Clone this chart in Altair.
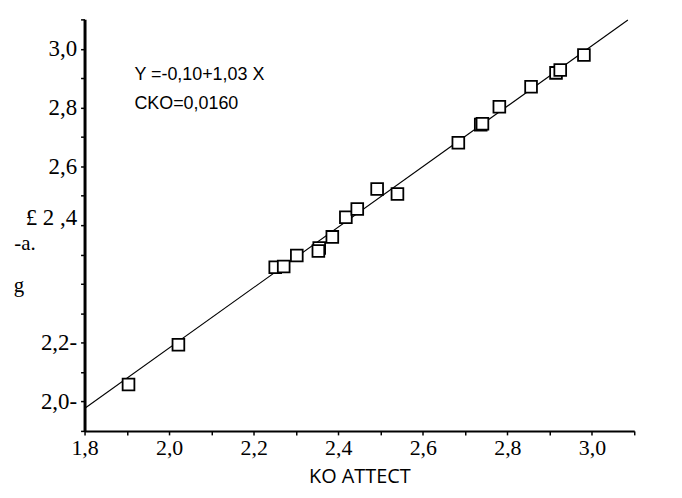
import altair as alt
import pandas as pd

# --- data -------------------------------------------------------------------
pts_x = [1.904, 2.022, 2.251, 2.271, 2.302, 2.355, 2.353, 2.386, 2.418, 2.445,
         2.492, 2.540, 2.684, 2.737, 2.741, 2.781, 2.856, 2.915, 2.925, 2.981]
pts_y = [1.858, 1.993, 2.257, 2.259, 2.297, 2.322, 2.312, 2.360, 2.427, 2.455,
         2.523, 2.506, 2.680, 2.742, 2.745, 2.803, 2.871, 2.918, 2.928, 2.979]

fit_x = [1.8, 3.085]
fit_y = [1.776, 3.098]

x_ticks = [1.8, 1.9, 2.0, 2.1, 2.2, 2.3, 2.4, 2.5, 2.6, 2.7, 2.8, 2.9, 3.0, 3.1]
x_label_values = [1.8, 2.0, 2.2, 2.4, 2.6, 2.8, 3.0]
x_label_texts = ["1,8", "2,0", "2,2", "2,4", "2,6", "2,8", "3,0"]

y_ticks = [1.7, 1.8, 1.9, 2.0, 2.1, 2.2, 2.3, 2.4, 2.5, 2.6, 2.7, 2.8, 2.9, 3.0, 3.1]
y_label_values = [1.8, 2.0, 2.4, 2.6, 2.8, 3.0]
y_label_texts = ["2,0-", "2,2-", "£ 2 ,4", "2,6", "2,8", "3,0"]

note_texts = ["Y =-0,10+1,03 X", "CKO=0,0160"]
note_x = [1.918, 1.918]
note_y = [2.912, 2.813]

side_texts = ["-a.", "g"]
side_x = [1.659, 1.645]
side_y = [2.335, 2.192]

x_title = "KO ATTECT"

SERIF = "Liberation Serif"


def label_expr(values, texts):
    expr = "''"
    for v, t in reversed(list(zip(values, texts))):
        expr = f"round(datum.value*10)=={round(v * 10)} ? '{t}' : {expr}"
    return expr


pts = pd.DataFrame({"x": pts_x, "y": pts_y})
fit = pd.DataFrame({"x": fit_x, "y": fit_y})
notes = pd.DataFrame({"x": note_x, "y": note_y, "t": note_texts})
sides = pd.DataFrame({"x": side_x, "y": side_y, "t": side_texts})

xscale = alt.Scale(domain=[1.8, 3.1], nice=False, zero=False)
yscale = alt.Scale(domain=[1.7, 3.1], nice=False, zero=False)

x_axis = alt.Axis(
    values=x_ticks, labelExpr=label_expr(x_label_values, x_label_texts),
    title=x_title, domainWidth=2, labelPadding=3, labelFontSize=22,
    titleFont="Open Sans", titleFontSize=20, titleFontWeight="normal",
    titleY=52, titleBaseline="alphabetic",
)
y_axis = alt.Axis(
    values=y_ticks, labelExpr=label_expr(y_label_values, y_label_texts),
    title=None, domainWidth=3, labelPadding=4, labelFontSize=23,
    labelBaseline="middle",
    labelOffset={"condition": {"test": "round(datum.value*10)==24", "value": -8},
                 "value": 0},
)

X = alt.X("x:Q", scale=xscale, axis=x_axis)
Y = alt.Y("y:Q", scale=yscale, axis=y_axis)

line = alt.Chart(fit).mark_line(color="black", strokeWidth=1.1).encode(x=X, y=Y)

points = alt.Chart(pts).mark_point(
    shape="square", size=140, filled=False, fill="white", fillOpacity=1,
    stroke="black", strokeWidth=1.8, opacity=1,
).encode(x=X, y=Y)

note_layer = alt.Chart(notes).mark_text(
    align="left", baseline="middle", font="Liberation Sans", fontSize=18,
    color="black",
).encode(x=X, y=Y, text="t:N")

side_layer = alt.Chart(sides).mark_text(
    align="center", baseline="middle", font=SERIF, fontSize=21,
    color="black",
).encode(x=X, y=Y, text="t:N")

chart = alt.layer(line, points, note_layer, side_layer).properties(
    width=553, height=414,
    autosize=alt.AutoSizeParams(type="none"),
    padding={"left": 77, "top": 10, "right": 40, "bottom": 57},
    background="white",
).configure_view(
    stroke=None
).configure_axis(
    grid=False, domainColor="black", tickColor="black", tickSize=4,
    tickWidth=1.5, labelFont=SERIF, labelColor="black", labelOverlap=False,
    labelFlush=False, titleColor="black",
)

chart.save("out.html", embed_options={"renderer": "svg", "actions": False})
